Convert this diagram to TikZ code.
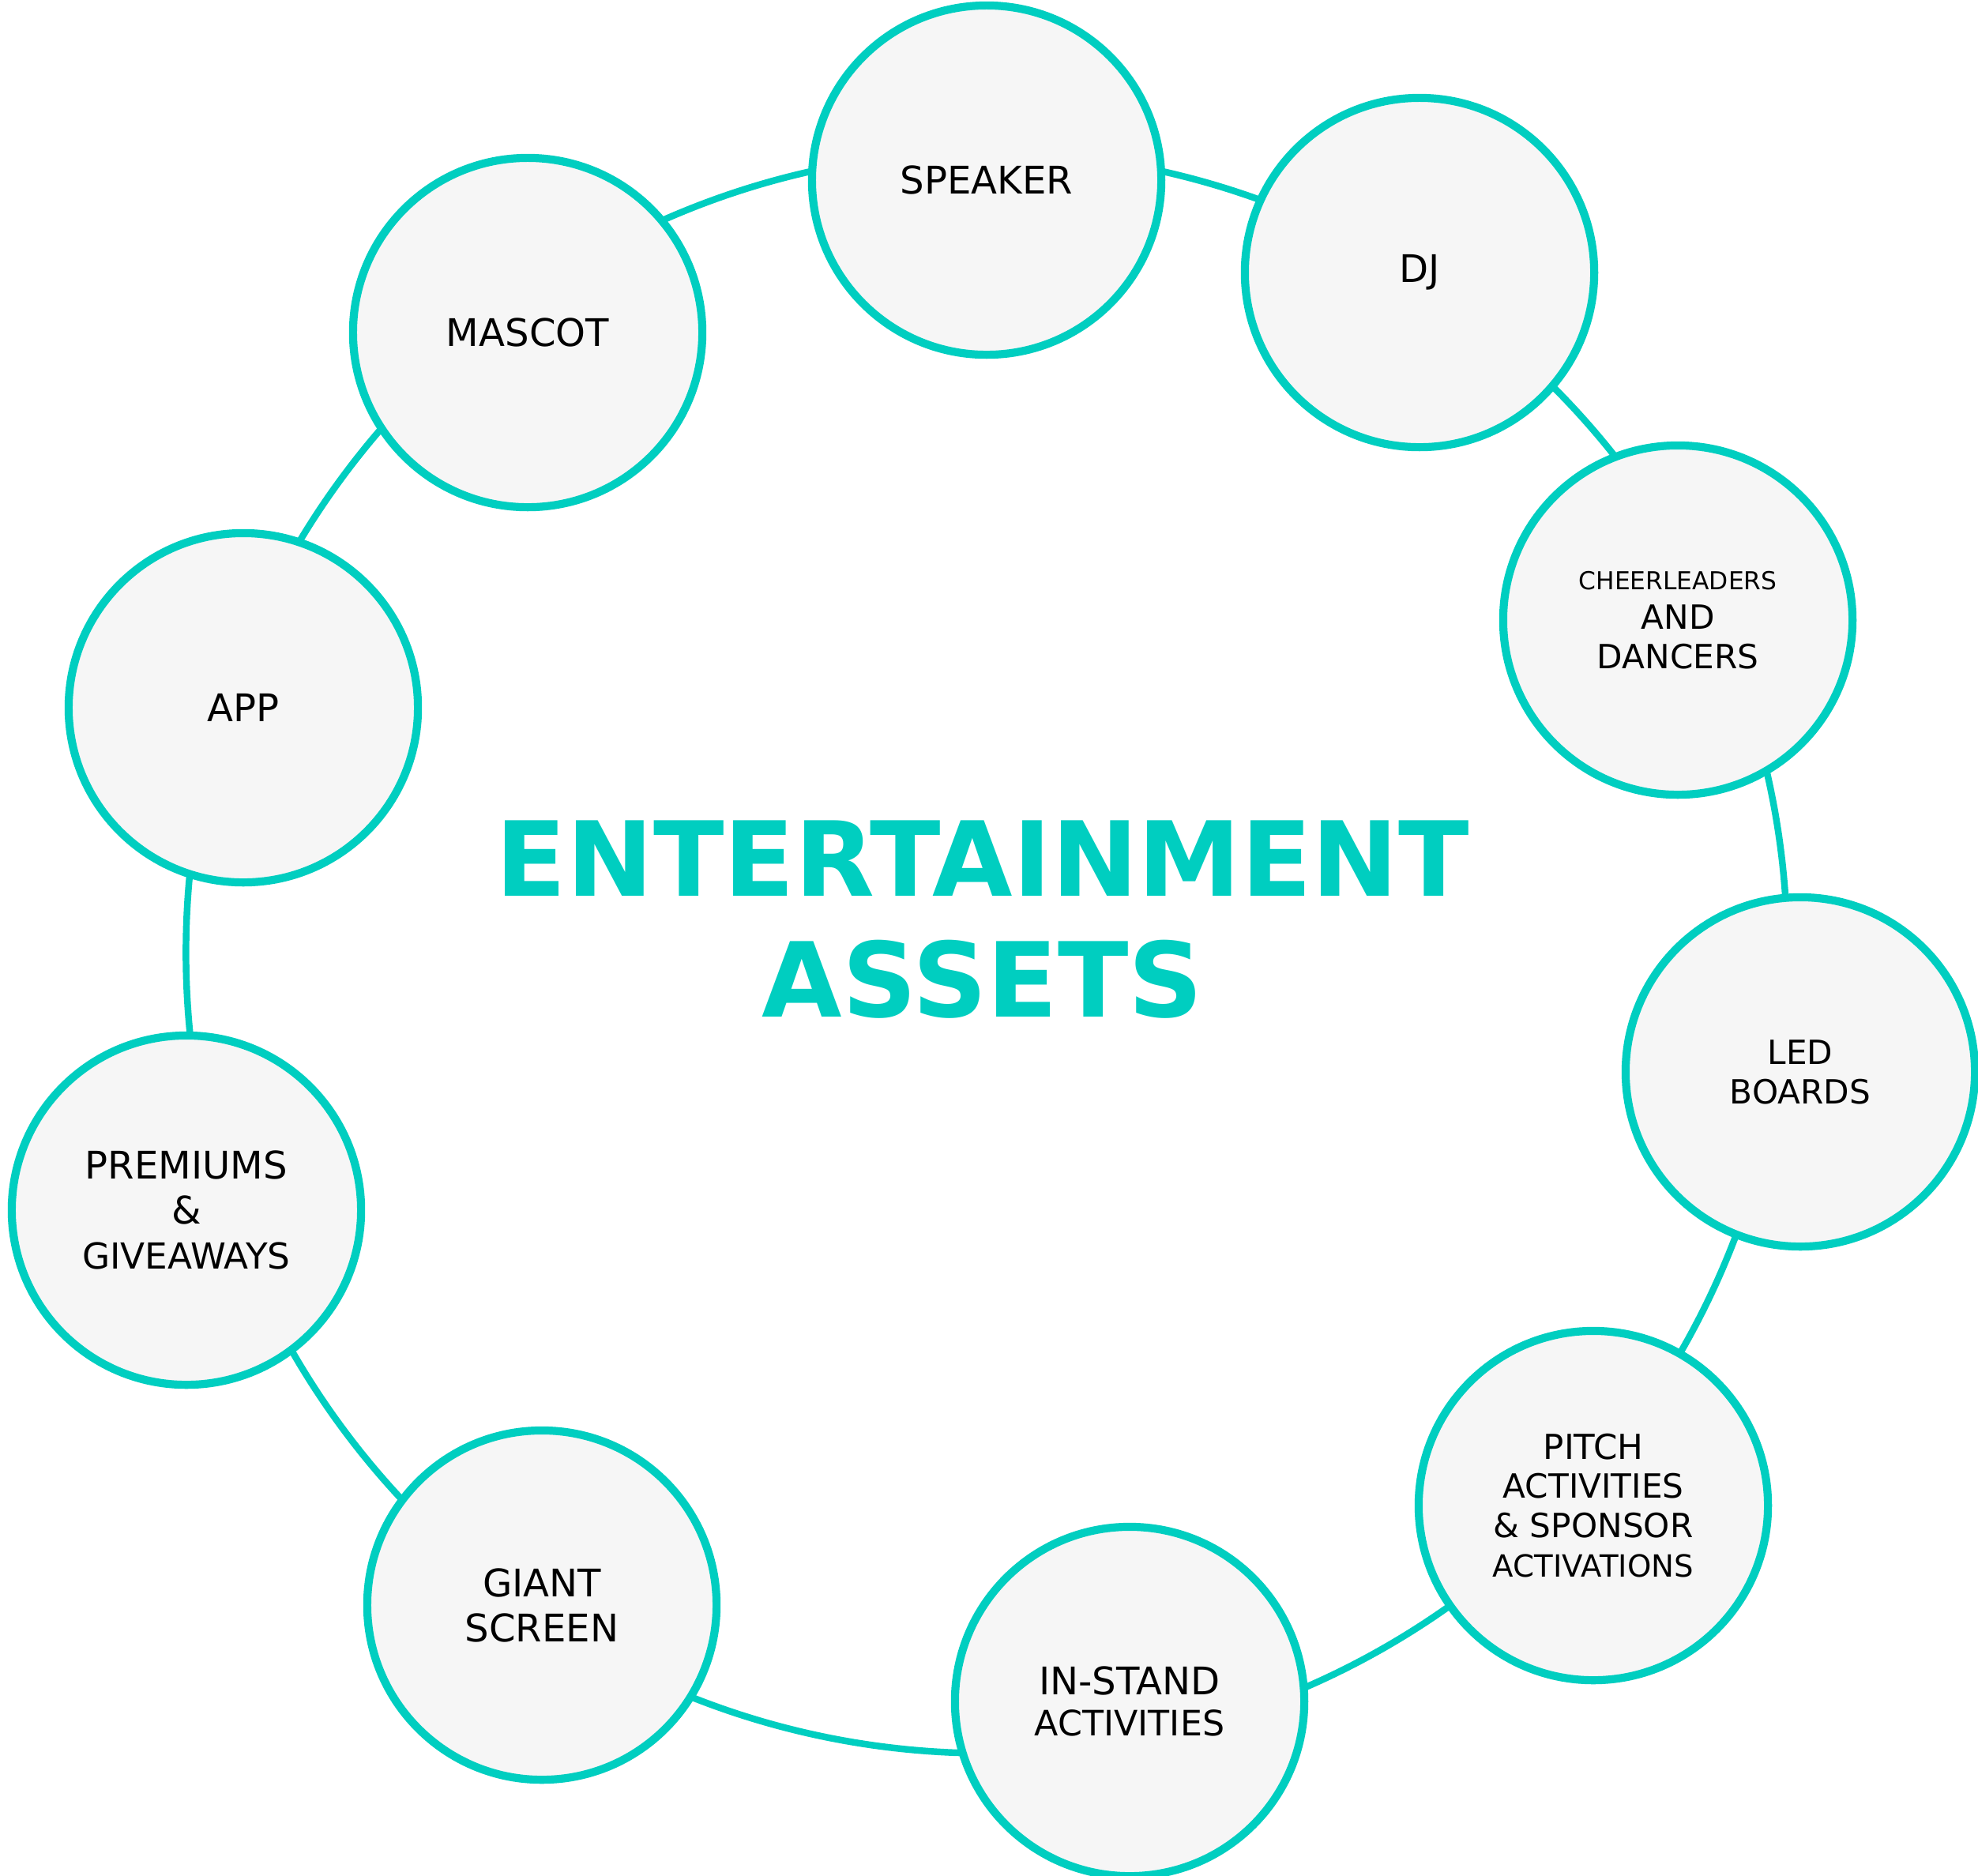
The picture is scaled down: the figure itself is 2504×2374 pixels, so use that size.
\documentclass[tikz,border=0pt]{standalone}
\usepackage{fontspec}
\setmainfont{DejaVu Sans}

\definecolor{acqua}{RGB}{0,206,192}
\definecolor{grigino}{RGB}{246,246,246}

\newcommand{\fgrande}{\fontsize{13.7}{16.2}\selectfont}
\newcommand{\fmedio}{\fontsize{12}{14.2}\selectfont}
\newcommand{\fpiccolo}{\fontsize{11}{14.2}\selectfont}
\newcommand{\fminimo}{\fontsize{8.9}{14.2}\selectfont}

\begin{document}
\begin{tikzpicture}[x=0.01cm, y=-0.01cm,
    palla/.style={circle, draw=acqua, line width=2.9pt, fill=grigino,
      minimum size=4.42cm, inner sep=0pt, align=center, font=\fgrande},
    anello/.style={draw=acqua, line width=2.4pt}]

            \useasboundingbox (0,0) rectangle (2504,2374);

            %disegna il cerchio grande
            \coordinate (centro) at (1249,1206);
            \draw [anello] (centro) circle [radius=10.13cm];

            %disegna i cerchi piccoli
            \node [palla] (speaker) at (1249,228) {SPEAKER};
            \node [palla] (dj) at (1797,345) {DJ};
            \node [palla, font=\fmedio] (cheer) at (2124,785) {\fminimo CHEERLEADERS\\\fmedio AND\\DANCERS};
            \node [palla, font=\fmedio] (led) at (2279,1357) {LED\\BOARDS};
            \node [palla, font=\fmedio] (pitch) at (2017,1906) {\fontsize{12.4}{14.2}\selectfont PITCH\\ACTIVITIES\\\& SPONSOR\\\fpiccolo ACTIVATIONS};
            \node [palla, font=\fontsize{12.6}{14.8}\selectfont] (instand) at (1430,2154) {\fgrande IN-STAND\\\fontsize{12.6}{14.8}\selectfont ACTIVITIES};
            \node [palla] (giant) at (686,2032) {GIANT\\SCREEN};
            \node [palla] (premiums) at (236,1532) {PREMIUMS\\\&\\\fontsize{12.9}{16.2}\selectfont GIVEAWAYS};
            \node [palla] (app) at (308,896) {APP};
            \node [palla] (mascot) at (668,421) {MASCOT};

            %scrive il titolo
            \node [text=acqua, font=\fontsize{37.3}{43.5}\selectfont\bfseries, align=center] (titolo) at (1244,1164) {ENTERTAINMENT\\ASSETS};

        \end{tikzpicture}
\end{document}
